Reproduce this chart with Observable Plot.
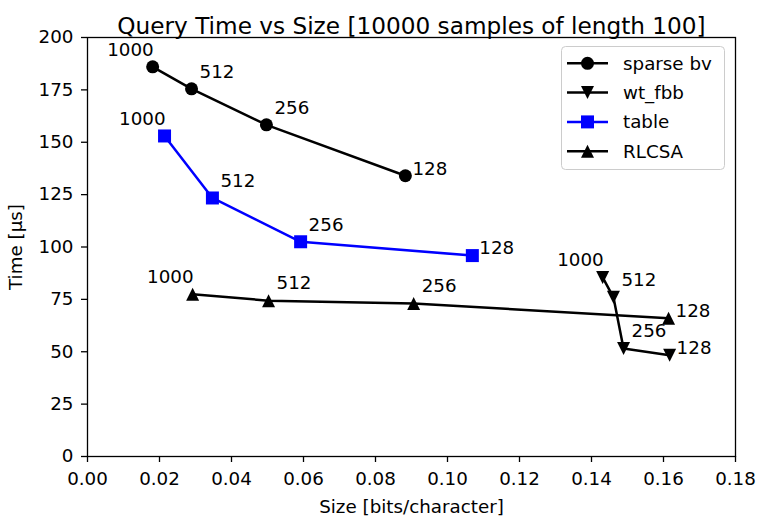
<!DOCTYPE html>
<html><head><meta charset="utf-8">
<script src="https://cdn.jsdelivr.net/npm/d3@7"></script>
<script src="https://cdn.jsdelivr.net/npm/@observablehq/plot@0.6"></script>
<style>
body{margin:0;background:#fff;}
#chart{position:relative;width:758px;height:516px;font-family:"DejaVu Sans",sans-serif;}
</style>
</head><body><div id="chart"></div>
<script>
const sizeLabels = ["1000", "512", "256", "128"];
const sparseX = [0.0181, 0.0289, 0.0497, 0.0883];
const sparseY = [186, 175.5, 158.3, 134];
const wtX = [0.1431, 0.1461, 0.1489, 0.1617];
const wtY = [85.5, 76, 51.5, 48.3];
const tableX = [0.0214, 0.0347, 0.0592, 0.1069];
const tableY = [153, 123.4, 102.5, 95.9];
const rlX = [0.0292, 0.0503, 0.0906, 0.1614];
const rlY = [77.5, 74.4, 73, 66];
const seriesNames = ["sparse bv", "wt_fbb", "table", "RLCSA"];
const seriesColors = ["black", "black", "blue", "black"];
const seriesShapes = ["circle", "triangleDown", "square", "triangleUp"];
const xTicks = [0, 0.02, 0.04, 0.06, 0.08, 0.10, 0.12, 0.14, 0.16, 0.18];
const yTicks = [0, 25, 50, 75, 100, 125, 150, 175, 200];
const titleText = "Query Time vs Size [10000 samples of length 100]";
const xLabel = "Size [bits/character]";
const yLabel = "Time [µs]";

const FS = 18.3;
const shapes = {
  circle: {draw(ctx, size){ const r = Math.sqrt(size/Math.PI); ctx.moveTo(r,0); ctx.arc(0,0,r,0,2*Math.PI); ctx.closePath(); }},
  square: {draw(ctx, size){ const r = Math.sqrt(size/Math.PI); ctx.rect(-r,-r,2*r,2*r); }},
  triangleUp: {draw(ctx, size){ const r = Math.sqrt(size/Math.PI); ctx.moveTo(0,-r); ctx.lineTo(r,r); ctx.lineTo(-r,r); ctx.closePath(); }},
  triangleDown: {draw(ctx, size){ const r = Math.sqrt(size/Math.PI); ctx.moveTo(0,r); ctx.lineTo(r,-r); ctx.lineTo(-r,-r); ctx.closePath(); }}
};

const xs = [sparseX, wtX, tableX, rlX];
const ys = [sparseY, wtY, tableY, rlY];
const series = seriesNames.map((name, i) => ({
  name, color: seriesColors[i], shape: shapes[seriesShapes[i]],
  data: sizeLabels.map((s, j) => ({x: xs[i][j], y: ys[i][j], label: s}))
}));

const marks = [];
for (const s of series) {
  marks.push(Plot.line(s.data, {x: "x", y: "y", stroke: s.color, strokeWidth: 2.5}));
  marks.push(Plot.dot(s.data, {x: "x", y: "y", fill: s.color, stroke: "none", r: 6.5, symbol: s.shape}));
  marks.push(Plot.text(s.data.filter(d => d.label === "1000"), {x: "x", y: "y", text: "label", textAnchor: "end", dx: 1, dy: -17, fontSize: FS, fill: "black"}));
  marks.push(Plot.text(s.data.filter(d => d.label === "512" || d.label === "256"), {x: "x", y: "y", text: "label", textAnchor: "start", dx: 8, dy: -17, fontSize: FS, fill: "black"}));
  marks.push(Plot.text(s.data.filter(d => d.label === "128"), {x: "x", y: "y", text: "label", textAnchor: "start", dx: 7, dy: -7, fontSize: FS, fill: "black"}));
}

const plot = Plot.plot({
  width: 758, height: 516,
  marginLeft: 87, marginRight: 23, marginTop: 37, marginBottom: 60,
  style: {fontFamily: "DejaVu Sans, sans-serif", fontSize: FS + "px", background: "white", color: "black"},
  x: {domain: [0, 0.18]},
  y: {domain: [0, 200]},
  marks: [
    Plot.axisX({ticks: xTicks, tickFormat: d3.format(".2f"), tickSize: 6, tickPadding: 9, strokeWidth: 1.3, label: xLabel, labelAnchor: "center", labelOffset: 56, labelArrow: "none", fontSize: FS}),
    Plot.axisY({ticks: yTicks, tickFormat: d3.format("d"), tickSize: 6, tickPadding: 8, strokeWidth: 1.3, label: yLabel, labelAnchor: "center", labelOffset: 79, labelArrow: "none", fontSize: FS}),
    ...marks,
    Plot.frame({stroke: "black", strokeWidth: 1.3}),
    Plot.text([titleText], {text: d => d, frameAnchor: "top", dy: -20, fontSize: 23.2, fill: "black"})
  ]
});
document.getElementById("chart").appendChild(plot);

// legend overlay
const svg = d3.select(plot);
const lg = svg.append("g").attr("transform", "translate(561,46)");
lg.append("rect").attr("x", 0.5).attr("y", 0.5).attr("width", 163).attr("height", 123).attr("rx", 4)
  .attr("fill", "white").attr("fill-opacity", 0.8).attr("stroke", "#cccccc").attr("stroke-width", 1);
series.forEach((s, i) => {
  const cy = 17.3 + i * 29.3;
  lg.append("line").attr("x1", 6).attr("x2", 47).attr("y1", cy).attr("y2", cy).attr("stroke", s.color).attr("stroke-width", 2.5);
  lg.append("path").attr("transform", `translate(26.5,${cy})`).attr("d", d3.symbol(s.shape, 6.5*6.5*Math.PI)()).attr("fill", s.color);
  lg.append("text").attr("x", 62).attr("y", cy).attr("dy", "0.35em").attr("text-anchor", "start").attr("font-size", FS).attr("fill", "black").text(s.name);
});
</script>
</body></html>
